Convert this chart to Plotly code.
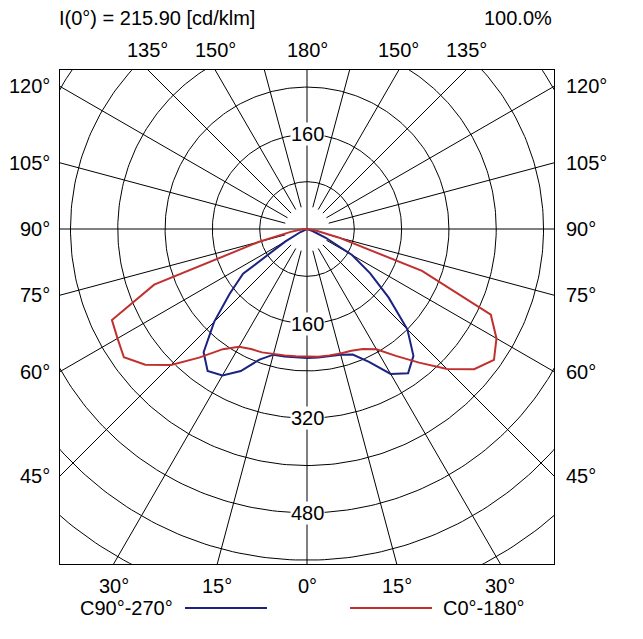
import numpy as np
import plotly.graph_objects as go

# gamma angles (deg from nadir) and intensities [cd/klm]
gamma = [0, 5, 10, 15, 20, 25, 30, 35, 40, 45, 50, 55, 60, 65, 70, 75, 80, 85, 90]
c0 = [217, 217, 217, 218, 219, 224, 235, 262, 295, 335, 369, 386, 370, 343, 207, 55, 15, 5, 0]
c180 = [216, 216, 217, 219, 222, 224, 230, 248, 284, 325, 357, 378, 370, 364, 275, 85, 28, 10, 0]
c90 = [218, 218, 218, 220, 226, 248, 283, 298, 280, 240, 180, 130, 88, 35, 10, 2, 0, 0, 0]
c270 = [218, 218, 219, 220, 235, 265, 286, 293, 272, 222, 171, 132, 42, 12, 4, 0, 0, 0, 0]

rings = [80, 160, 240, 320, 400, 480, 560, 640]
ring_labels = [160, -160, -320, -480]  # signed: above / below centre
spokes = list(range(0, 360, 15))

bottom_angles = [-30, -15, 0, 15, 30]
side_angles = [120, 105, 90, 75, 60, 45]
top_angles = [-135, -150, 180, 150, 135]

i0_text = "I(0°) = 215.90 [cd/klm]"
ratio_text = "100.0%"
legend_names = ["C90°-270°", "C0°-180°"]

RED = "#c0302e"
BLUE = "#1b2280"
FONT = dict(family="Arial, Liberation Sans, sans-serif", size=20, color="black")

# frame in data units (cd/klm)
XL, XR = -417.7, 417.7
YB, YT = -566.5, 268.9


def curve(left, right):
    g = np.radians(gamma)
    xl = -np.array(left) * np.sin(g)
    yl = -np.array(left) * np.cos(g)
    xr = np.array(right) * np.sin(g)
    yr = -np.array(right) * np.cos(g)
    return np.concatenate([xl[::-1], xr[1:]]), np.concatenate([yl[::-1], yr[1:]])


fig = go.Figure()

# grid circles
t = np.linspace(0, 2 * np.pi, 361)
for r in rings:
    fig.add_trace(go.Scatter(x=r * np.cos(t), y=r * np.sin(t), mode="lines",
                             line=dict(color="black", width=1), hoverinfo="skip", showlegend=False))

# spokes
for a in spokes:
    ang = np.radians(a)
    r0 = 0 if a % 90 == 0 else 38
    fig.add_trace(go.Scatter(x=[r0 * np.sin(ang), 900 * np.sin(ang)],
                             y=[-r0 * np.cos(ang), -900 * np.cos(ang)], mode="lines",
                             line=dict(color="black", width=1), hoverinfo="skip", showlegend=False))

bx, by = curve(c270, c90)
fig.add_trace(go.Scatter(x=bx, y=by, mode="lines", line=dict(color=BLUE, width=2),
                         name=legend_names[0], showlegend=False))
rx, ry = curve(c180, c0)
fig.add_trace(go.Scatter(x=rx, y=ry, mode="lines", line=dict(color=RED, width=2),
                         name=legend_names[1], showlegend=False))

ann = []
for v in ring_labels:
    ann.append(dict(x=0, y=v, xref="x", yref="y", text=str(abs(v)), showarrow=False,
                    bgcolor="white", borderpad=0, font=FONT))

for a in bottom_angles:
    ann.append(dict(x=-YB * np.tan(np.radians(a)), y=0, xref="x", yref="paper", yshift=-22,
                    yanchor="middle", text=f"{abs(a)}°", showarrow=False, font=FONT))
for a in top_angles:
    ann.append(dict(x=YT * np.tan(np.radians(180 - abs(a))) * np.sign(a), y=1, xref="x", yref="paper",
                    yshift=20, yanchor="middle", text=f"{abs(a)}°", showarrow=False, font=FONT))
for a in side_angles:
    yy = XR * np.cos(np.radians(a)) / np.sin(np.radians(a))
    ann.append(dict(x=0, y=-yy, xref="paper", yref="y", xshift=-8, xanchor="right",
                    yanchor="middle", text=f"{a}°", showarrow=False, font=FONT))
    ann.append(dict(x=1, y=-yy, xref="paper", yref="y", xshift=10, xanchor="left",
                    yanchor="middle", text=f"{a}°", showarrow=False, font=FONT))

ann.append(dict(x=0, y=1, xref="paper", yref="paper", xshift=-3, yshift=52, xanchor="left",
                yanchor="middle", text=i0_text, showarrow=False, font=FONT))
ann.append(dict(x=1, y=1, xref="paper", yref="paper", yshift=52, xanchor="right",
                yanchor="middle", text=ratio_text, showarrow=False, font=FONT))

# legend
ann.append(dict(x=0.233, y=-0.089, xref="paper", yref="paper", xanchor="right", yanchor="middle",
                text=legend_names[0], showarrow=False, font=FONT))
ann.append(dict(x=0.771, y=-0.089, xref="paper", yref="paper", xanchor="left", yanchor="middle",
                text=legend_names[1], showarrow=False, font=FONT))
shapes = [
    dict(type="line", xref="paper", yref="paper", x0=0.253, x1=0.419, y0=-0.089, y1=-0.089,
         line=dict(color=BLUE, width=2)),
    dict(type="line", xref="paper", yref="paper", x0=0.587, x1=0.753, y0=-0.089, y1=-0.089,
         line=dict(color=RED, width=2)),
]

fig.update_layout(
    width=643,
    height=639,
    margin=dict(l=52, r=97, t=62, b=83),
    paper_bgcolor="white",
    plot_bgcolor="white",
    annotations=ann,
    shapes=shapes,
    font=FONT,
)
fig.update_xaxes(range=[XL, XR], showgrid=False, zeroline=False, showticklabels=False, ticks="",
                 showline=True, mirror=True, linecolor="black", linewidth=1)
fig.update_yaxes(range=[YB, YT], showgrid=False, zeroline=False, showticklabels=False, ticks="",
                 showline=True, mirror=True, linecolor="black", linewidth=1)

fig.write_html("out.html")
